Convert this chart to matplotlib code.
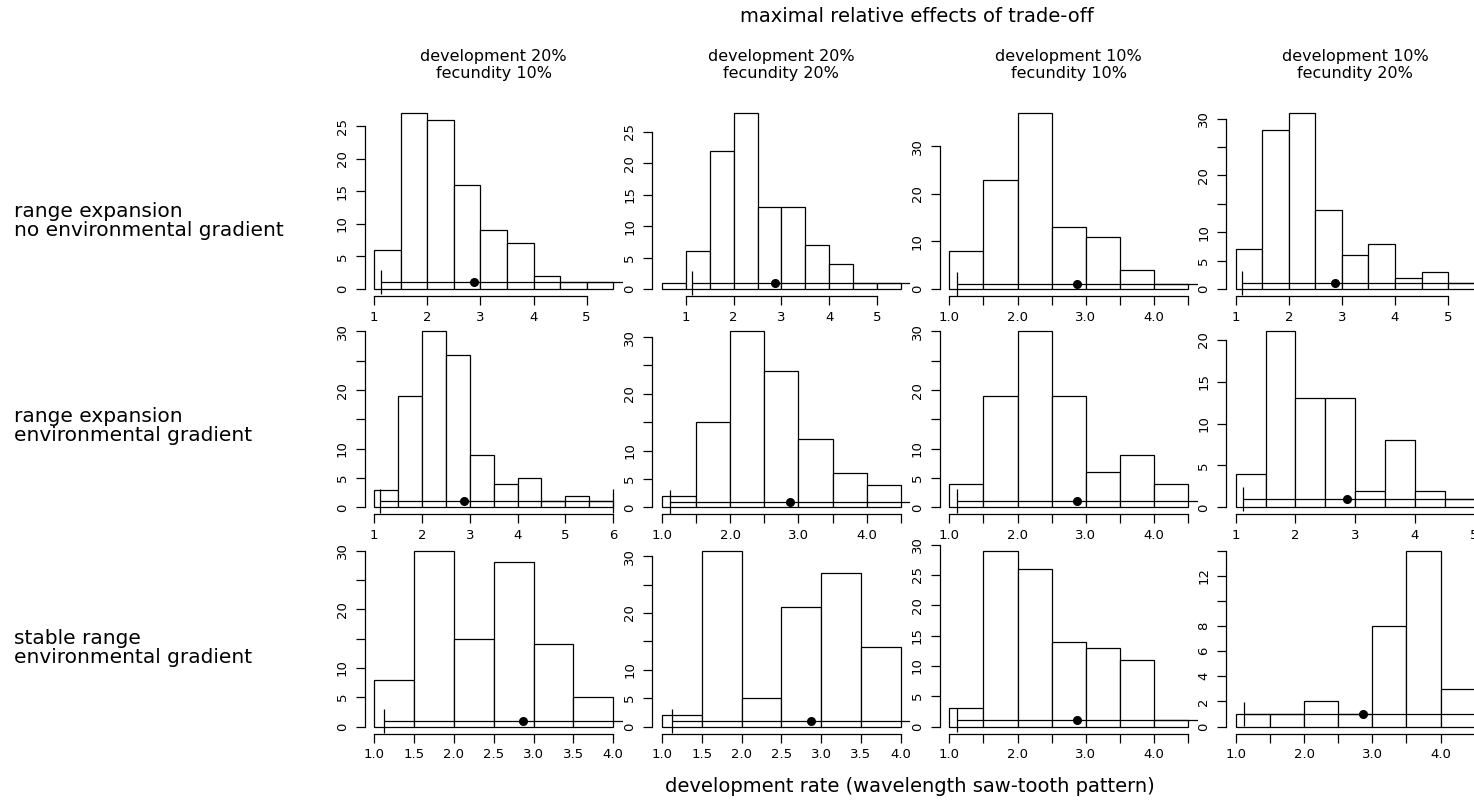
import numpy as np
import matplotlib.pyplot as plt

plt.rcParams['font.family'] = ['DejaVu Sans']

# column / row headings
col_titles = ['development 20%\nfecundity 10%', 'development 20%\nfecundity 20%',
              'development 10%\nfecundity 10%', 'development 10%\nfecundity 20%']
row_titles = ['range expansion\nno environmental gradient',
              'range expansion\nenvironmental gradient',
              'stable range\nenvironmental gradient']

# histogram counts, bins of width 0.5 starting at bin_start
bin_width = 0.5
r1c1_start, r1c1_counts = 1.0, [6, 27, 26, 16, 9, 7, 2, 1, 1]
r1c2_start, r1c2_counts = 0.5, [1, 6, 22, 28, 13, 13, 7, 4, 1, 1]
r1c3_start, r1c3_counts = 1.0, [8, 23, 37, 13, 11, 4, 1]
r1c4_start, r1c4_counts = 1.0, [7, 28, 31, 14, 6, 8, 2, 3, 1]
r2c1_start, r2c1_counts = 1.0, [3, 19, 30, 26, 9, 4, 5, 1, 2, 1]
r2c2_start, r2c2_counts = 1.0, [2, 15, 31, 24, 12, 6, 4]
r2c3_start, r2c3_counts = 1.0, [4, 19, 30, 19, 6, 9, 4]
r2c4_start, r2c4_counts = 1.0, [4, 21, 13, 13, 2, 8, 2, 1]
r3c1_start, r3c1_counts = 1.0, [8, 30, 15, 28, 14, 5]
r3c2_start, r3c2_counts = 1.0, [2, 31, 5, 21, 27, 14]
r3c3_start, r3c3_counts = 1.0, [3, 29, 26, 14, 13, 11, 1]
r3c4_start, r3c4_counts = 1.0, [1, 1, 2, 1, 8, 14, 3]

# observed value with its range (same in every panel), drawn at count 1
obs_low, obs_mid, obs_high, obs_y = 1.12, 2.87, 6.0, 1

# tick positions and labels
x_int5 = ['1', '2', '3', '4', '5']
x_int6 = ['1', '2', '3', '4', '5', '6']
x_half45 = ['1.0', '', '2.0', '', '3.0', '', '4.0', '']
x_half40 = ['1.0', '1.5', '2.0', '2.5', '3.0', '3.5', '4.0']
y_25 = ['0', '5', '10', '15', '20', '25']
y_30 = ['0', '5', '10', '', '20', '', '30']
y_30all = ['0', '5', '10', '15', '20', '25', '30']
y_30by10 = ['0', '10', '20', '30']
y_20 = ['0', '5', '10', '15', '20']
y_14 = ['0', '2', '4', '6', '8', '', '12', '']

starts = [[r1c1_start, r1c2_start, r1c3_start, r1c4_start],
          [r2c1_start, r2c2_start, r2c3_start, r2c4_start],
          [r3c1_start, r3c2_start, r3c3_start, r3c4_start]]
counts = [[r1c1_counts, r1c2_counts, r1c3_counts, r1c4_counts],
          [r2c1_counts, r2c2_counts, r2c3_counts, r2c4_counts],
          [r3c1_counts, r3c2_counts, r3c3_counts, r3c4_counts]]
xticks = [[(1, 1, x_int5), (1, 1, x_int5), (1, 0.5, x_half45), (1, 1, x_int5)],
          [(1, 1, x_int6), (1, 0.5, x_half45), (1, 0.5, x_half45), (1, 1, x_int5)],
          [(1, 0.5, x_half40), (1, 0.5, x_half40), (1, 0.5, x_half45), (1, 0.5, x_half45)]]
yticks = [[(5, y_25), (5, y_25), (10, y_30by10), (5, y_30)],
          [(5, y_30), (5, y_30), (5, y_30), (5, y_20)],
          [(5, y_30), (5, y_30), (5, y_30all), (2, y_14)]]

W, H = 1474, 806
fig = plt.figure(figsize=(W / 100, H / 100), dpi=100)

col_left = [364.7, 652.4, 939.7, 1226.2]
row_bottom = [296.0, 514.4, 733.6]
pw, ph = 258, 190

for r in range(3):
    for c in range(4):
        ax = fig.add_axes([col_left[c] / W, 1 - row_bottom[r] / H, pw / W, ph / H])
        cnt = counts[r][c]
        x0 = starts[r][c]
        edges = x0 + bin_width * np.arange(len(cnt))
        x1 = x0 + bin_width * len(cnt)
        ax.bar(edges, cnt, width=bin_width, align='edge', facecolor='white',
               edgecolor='black', linewidth=0.9)
        ax.errorbar(obs_mid, obs_y, xerr=[[obs_mid - obs_low], [obs_high - obs_mid]],
                    fmt='o', color='black', ms=5.5, elinewidth=0.9, capsize=8.3,
                    capthick=0.9)
        xr = x1 - x0
        ax.set_xlim(x0 - 0.04 * xr, x1 + 0.04 * xr)
        ymax = max(cnt)
        ax.set_ylim(-0.04 * ymax, 1.04 * ymax)

        tstart, tstep, tlabels = xticks[r][c]
        xt = tstart + tstep * np.arange(len(tlabels))
        ax.set_xticks(xt)
        ax.set_xticklabels(tlabels)
        ystep, ylabels = yticks[r][c]
        yt = ystep * np.arange(len(ylabels))
        ax.set_yticks(yt)
        ax.set_yticklabels(ylabels, rotation=90, va='center')

        for s in ['top', 'right']:
            ax.spines[s].set_visible(False)
        ax.spines['left'].set_bounds(yt[0], yt[-1])
        ax.spines['bottom'].set_bounds(xt[0], xt[-1])
        ax.spines['left'].set_linewidth(0.9)
        ax.spines['bottom'].set_linewidth(0.9)
        ax.tick_params(direction='out', length=6.5, width=0.9, labelsize=9.5)
        ax.tick_params(axis='y', pad=5)
        ax.tick_params(axis='x', pad=4)
        ax.patch.set_alpha(0)

for c in range(4):
    fig.text((col_left[c] + pw / 2) / W, 1 - 65 / H, col_titles[c], ha='center',
             va='center', fontsize=11.5, linespacing=1.1)

row_y = [221, 426, 648]
for r in range(3):
    fig.text(14 / W, 1 - row_y[r] / H, row_titles[r], ha='left', va='center',
             fontsize=14.5, linespacing=1.0)

fig.text(917 / W, 1 - 17 / H, 'maximal relative effects of trade-off', ha='center',
         va='center', fontsize=14)
fig.text(910 / W, 1 - 787 / H, 'development rate (wavelength saw-tooth pattern)',
         ha='center', va='center', fontsize=14)

fig.savefig('out.png', dpi=100)
